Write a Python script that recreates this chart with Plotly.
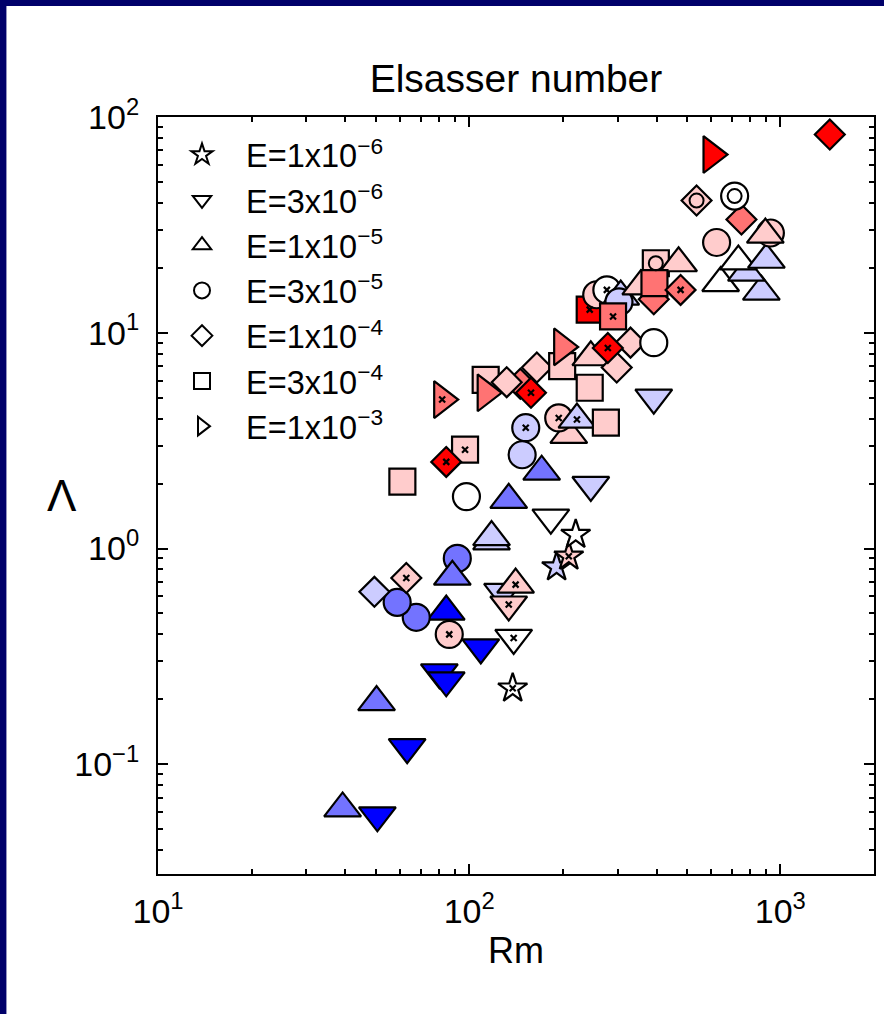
import math
import plotly.graph_objects as go

# ---------------- data ----------------
E_levels = [1e-6, 3e-6, 1e-5, 3e-5, 1e-4, 3e-4, 1e-3]
E_labels = ["E=1x10<sup>−6</sup>", "E=3x10<sup>−6</sup>", "E=1x10<sup>−5</sup>",
            "E=3x10<sup>−5</sup>", "E=1x10<sup>−4</sup>", "E=3x10<sup>−4</sup>",
            "E=1x10<sup>−3</sup>"]

# Ekman number of each run
E = [1e-5, 3e-6, 3e-6, 1e-5, 3e-6, 3e-6, 1e-6, 3e-6, 3e-5, 1e-5,
     3e-5, 3e-5, 1e-4, 1e-4, 3e-5, 1e-5, 3e-6, 1e-5, 3e-6, 3e-6,
     1e-6, 1e-6, 1e-6, 1e-5, 1e-5, 3e-6, 1e-5, 3e-5, 3e-4, 3e-6,
     1e-5, 3e-4, 1e-4, 3e-5, 3e-5, 1e-5, 3e-5, 1e-5, 3e-4, 3e-6,
     1e-3, 3e-4, 1e-3, 1e-4, 1e-4, 1e-4, 1e-4, 3e-4, 3e-4, 1e-3,
     1e-5, 1e-4, 1e-4, 1e-4, 3e-5, 3e-4, 3e-5, 3e-5, 1e-5, 3e-5,
     3e-4, 1e-5, 1e-4, 3e-4, 1e-5, 3e-4, 1e-4, 1e-5, 1e-5, 1e-5,
     1e-5, 1e-5, 3e-5, 3e-5, 1e-5, 1e-4, 1e-4, 3e-5, 1e-3, 1e-4]

# magnetic Reynolds number
Rm = [39.2, 50.7, 63.2, 50.4, 80.2, 84.4, 138, 109, 86.3, 84.4,
      67.6, 58.7, 49.6, 62.8, 91.6, 88.3, 128, 141, 134, 139,
      191, 209, 220, 118, 118, 183, 134, 98, 61, 246,
      171, 97, 84.4, 148, 152, 209, 194, 222, 275, 392,
      81.9, 113, 113, 146, 132, 165, 158, 244, 199, 199,
      246, 298, 330, 279, 392, 244, 257, 277, 307, 303,
      290, 356, 392, 398, 471, 394, 478, 643, 869, 778,
      733, 902, 624, 929, 895, 750, 538, 713, 601, 1442]

# Elsasser number
Lam = [0.0624, 0.058, 0.12, 0.194, 0.267, 0.245, 0.225, 0.348, 0.40, 0.51,
       0.48, 0.563, 0.63, 0.73, 0.90, 0.74, 0.63, 0.68, 0.55, 0.385,
       0.82, 0.92, 1.16, 1.08, 1.13, 1.39, 1.68, 1.74, 2.04, 1.97,
       2.27, 2.87, 2.52, 2.72, 3.63, 3.36, 4.03, 3.96, 3.83, 5.0,
       4.9, 6.05, 5.27, 5.8, 5.9, 6.9, 5.27, 5.56, 7.0, 8.6,
       7.7, 6.9, 9.0, 8.5, 9.0, 12.8, 15.0, 15.8, 14.7, 13.9,
       11.9, 16.4, 14.3, 21.0, 21.0, 17.0, 15.8, 17.0, 15.5, 19.0,
       21.4, 21.8, 26.2, 29.0, 28.5, 33.5, 41.0, 43.0, 67.0, 83.0]

# colour value (blue = -1 ... white = 0 ... red = +1)
C = [-0.55, -1, -1, -0.55, -1, -1, 0, -1, 0.2, -1,
     -0.55, -0.55, -0.2, 0.2, -0.55, -0.55, -0.2, 0.2, 0.2, 0,
     -0.2, 0.2, 0, -0.2, -0.2, 0, -0.55, 0, 0.2, -0.2,
     -0.55, 0.2, 1, -0.2, -0.2, 0.2, 0.2, -0.2, 0.2, -0.2,
     0.55, 0.2, 0.55, 0.55, 0.2, 0.2, 1, 0.2, 0.2, 0.55,
     0.2, 0.2, 0.2, 1, 0, 1, 0.2, 0, -0.2, -0.2,
     0.55, 0.2, 0.55, 0.2, 0.2, 0.55, 0.55, 0, -0.2, -0.2,
     0, -0.2, 0.2, 0.2, 0.2, 0.55, 0.2, 0, 1, 1]

# inner mark drawn on the symbol ('' none, 'x' cross, 'o' ring)
Inner = ['', '', '', '', '', '', 'x', '', 'x', '',
         '', '', '', 'x', '', '', '', 'x', 'x', 'x',
         '', 'x', '', '', '', '', '', '', '', '',
         '', 'x', 'x', '', 'x', '', 'x', 'x', '', '',
         'x', '', '', '', '', '', 'x', '', '', '',
         '', '', '', 'x', '', 'x', '', 'x', '', '',
         'x', '', '', 'o', '', '', 'x', '', '', '',
         '', '', '', '', '', '', 'o', 'o', '', '']

# ---------------- styles ----------------
SYMBOL = {1e-6: ('star', 22), 3e-6: ('triangle-down', 32), 1e-5: ('triangle-up', 32),
          3e-5: ('circle', 27), 1e-4: ('diamond', 23), 3e-4: ('square', 26),
          1e-3: ('triangle-right', 32)}
FONT = "Liberation Sans, Arial, Helvetica, sans-serif"
NAVY = "#00006a"

W, H = 884, 1014
ML, MR, MT, MB = 158, 8, 117, 140
PW, PH = W - ML - MR, H - MT - MB

fig = go.Figure()

fig.add_trace(go.Scatter(
    x=Rm, y=Lam, mode="markers", showlegend=False,
    marker=dict(symbol=[SYMBOL[e][0] for e in E], size=[SYMBOL[e][1] for e in E],
                color=C, cmin=-1, cmax=1,
                colorscale=[[0, "#0000ff"], [0.5, "#ffffff"], [1, "#ff0000"]],
                line=dict(color="black", width=2.2), opacity=1),
    hoverinfo="skip"))

# inner marks
xi = [r for r, m in zip(Rm, Inner) if m == 'x']
yi = [l for l, m in zip(Lam, Inner) if m == 'x']
fig.add_trace(go.Scatter(x=xi, y=yi, mode="markers", showlegend=False,
                         marker=dict(symbol="x-thin", size=6, line=dict(color="black", width=2.2)),
                         hoverinfo="skip"))
xo = [r for r, m in zip(Rm, Inner) if m == 'o']
yo = [l for l, m in zip(Lam, Inner) if m == 'o']
fig.add_trace(go.Scatter(x=xo, y=yo, mode="markers", showlegend=False,
                         marker=dict(symbol="circle-open", size=14, color="black",
                                     line=dict(color="black", width=2)),
                         hoverinfo="skip"))

# legend entries
for i, (e, lab) in enumerate(zip(E_levels, E_labels)):
    fig.add_trace(go.Scatter(x=[None], y=[None], mode="markers", name=lab,
                             legendgroup=f"g{i}",
                             marker=dict(symbol=SYMBOL[e][0], size=16, color="white",
                                         line=dict(color="black", width=2))))

minor_x = [m * 10 ** k for k in range(1, 4) for m in range(2, 10)]
minor_y = [m * 10 ** k for k in range(-2, 2) for m in range(2, 10)]

axis_common = dict(type="log", showgrid=False, zeroline=False, ticks="inside",
                   ticklen=10, tickwidth=1.5, tickcolor="black", showline=True,
                   linecolor="black", linewidth=2, mirror="ticks",
                   tickfont=dict(family=FONT, size=34, color="black"))

fig.update_xaxes(**axis_common, range=[1, math.log10(2000)], tickmode="array",
                 tickvals=[10, 100, 1000],
                 ticktext=["10<sup>1</sup>", "10<sup>2</sup>", "10<sup>3</sup>"],
                 ticklabelstandoff=6,
                 minor=dict(tickmode="array", tickvals=minor_x, ticks="inside", ticklen=5,
                            tickwidth=1.5, tickcolor="black", showgrid=False),
                 title=dict(text="Rm", font=dict(family=FONT, size=36, color="black"),
                            standoff=4))
fig.update_yaxes(**axis_common, range=[math.log10(0.031), 2], tickmode="array",
                 tickvals=[0.1, 1, 10, 100],
                 ticktext=["10<sup>−1</sup>", "10<sup>0</sup>", "10<sup>1</sup>", "10<sup>2</sup>"],
                 ticklabelstandoff=10,
                 minor=dict(tickmode="array", tickvals=minor_y, ticks="inside", ticklen=5,
                            tickwidth=1.5, tickcolor="black", showgrid=False))

fig.update_layout(
    width=W, height=H, autosize=False,
    margin=dict(l=ML, r=MR, t=MT, b=MB, pad=0),
    paper_bgcolor=NAVY, plot_bgcolor="white",
    title=dict(text="Elsasser number", x=0.5, xref="paper", xanchor="center",
               y=1 - 78 / H, yref="container", yanchor="middle",
               font=dict(family=FONT, size=39, color="black")),
    legend=dict(x=0, xanchor="left", y=1 - 10 / PH, yanchor="top",
                bgcolor="rgba(0,0,0,0)", borderwidth=0, itemwidth=78,
                tracegroupgap=0,
                font=dict(family=FONT, size=32.5, color="black")),
    annotations=[dict(text="Λ", xref="paper", yref="paper", x=(62 - ML) / PW, y=0.5,
                      xanchor="center", yanchor="middle", showarrow=False,
                      font=dict(family=FONT, size=44, color="black"))],
    shapes=[dict(type="rect", xref="paper", yref="paper", layer="below",
                 x0=(6 - ML) / PW, x1=(W + 10 - ML) / PW,
                 y0=(MB - H - 10) / PH + 0, y1=(H - MB - 6) / PH,
                 fillcolor="white", line=dict(width=0))],
)

fig.write_html("out.html")
